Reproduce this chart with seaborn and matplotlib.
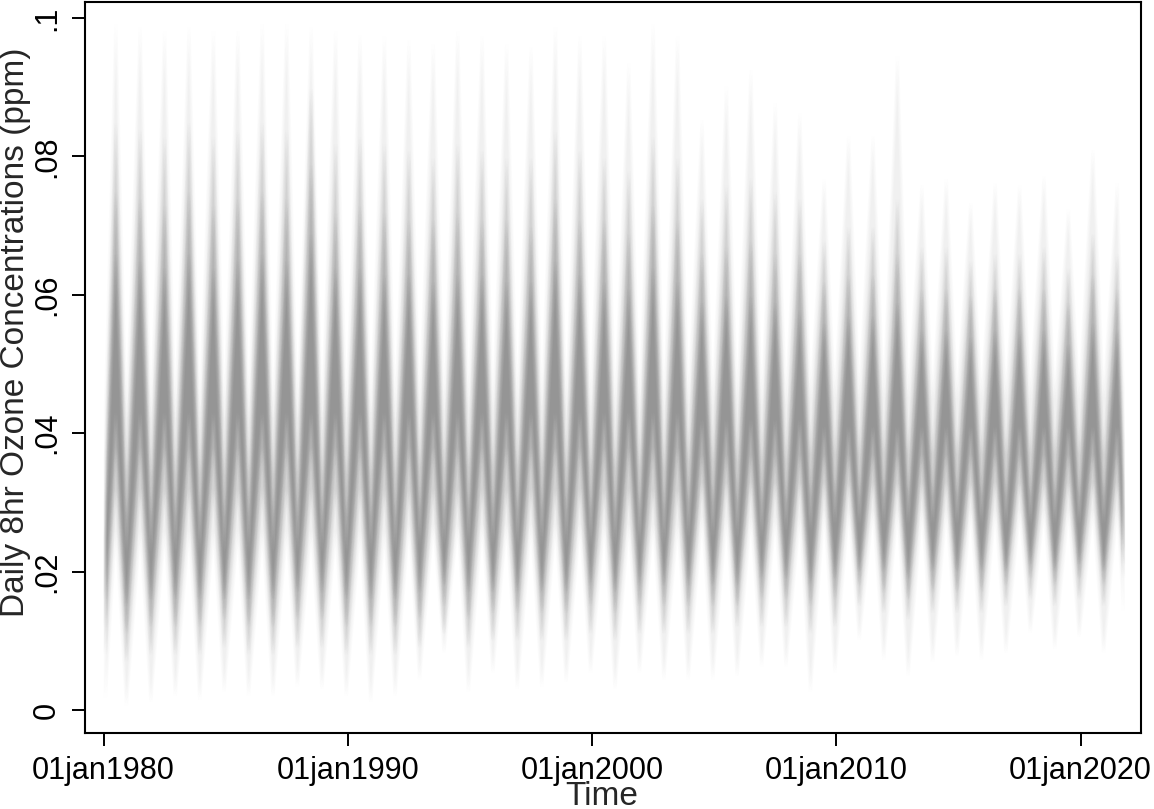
import numpy as np
import pandas as pd
import seaborn as sns
import matplotlib
matplotlib.use('Agg')
import matplotlib.pyplot as plt
import matplotlib.dates as mdates

# seasonal nodes: one summer peak per year, winter lows in between
peak_years = list(range(1980, 2022))
peak_dates = pd.to_datetime(['{}-06-25'.format(y) for y in peak_years])
trough_dates = pd.to_datetime(['1980-01-20'] + ['{}-12-01'.format(y) for y in range(1980, 2021)] + ['2021-09-25'])

# summer peaks, outer (faint) to core (dark) upper edges
peak_l0_top = [.0996, .0992, .0986, .0992, .0986, .0986, .0996, .0996, .0992, .0986, .098, .0978, .0972, .0967,
               .0986, .0978, .0967, .0963, .0992, .0978, .0978, .0939, .0996, .0978, .0856, .0905, .0929, .0881,
               .0866, .077, .0833, .0833, .0949, .0761, .077, .0736, .0765, .0761, .0775, .0726, .0813, .0765]
peak_l1_top = [.085, .084, .083, .085, .083, .084, .085, .084, .090, .082, .083, .082, .081, .080,
               .082, .081, .080, .080, .084, .081, .080, .078, .083, .080, .074, .076, .077, .075,
               .074, .068, .070, .070, .074, .067, .067, .065, .066, .066, .067, .064, .069, .066]
peak_l2_top = [.075, .074, .073, .075, .073, .074, .075, .074, .079, .072, .073, .072, .071, .071,
               .072, .071, .071, .070, .074, .071, .071, .069, .073, .071, .066, .067, .068, .066,
               .066, .062, .063, .063, .066, .061, .061, .060, .061, .061, .061, .059, .063, .061]
peak_l3_top = [.066, .065, .064, .066, .064, .065, .066, .065, .069, .064, .064, .063, .063, .062,
               .063, .063, .062, .062, .065, .063, .062, .061, .064, .062, .059, .060, .060, .059,
               .058, .056, .057, .057, .059, .055, .055, .054, .055, .055, .055, .053, .056, .055]
# summer peaks, lower edges of each band
peak_l0_bot = [.026, .026, .026, .026, .026, .026, .026, .026, .026, .026, .026, .026, .027, .027,
               .027, .027, .027, .027, .027, .027, .027, .027, .027, .027, .028, .028, .028, .028,
               .028, .029, .029, .029, .029, .029, .029, .029, .029, .029, .029, .029, .029, .029]
peak_l1_bot = [.032, .032, .032, .032, .032, .032, .032, .032, .032, .032, .032, .032, .032, .032,
               .032, .032, .032, .032, .032, .032, .032, .032, .032, .032, .033, .033, .033, .033,
               .033, .033, .033, .033, .033, .033, .033, .033, .033, .033, .033, .033, .033, .033]
peak_l2_bot = [.038, .038, .038, .038, .038, .038, .038, .038, .038, .038, .038, .038, .038, .038,
               .038, .038, .038, .038, .038, .038, .038, .038, .038, .038, .037, .037, .037, .037,
               .037, .037, .037, .037, .037, .037, .037, .037, .037, .037, .037, .037, .037, .037]
peak_l3_bot = [.043, .043, .043, .043, .043, .043, .043, .043, .043, .043, .043, .043, .043, .043,
               .043, .043, .043, .043, .043, .043, .043, .043, .043, .043, .042, .042, .042, .042,
               .042, .041, .041, .041, .041, .041, .041, .041, .041, .041, .041, .041, .041, .041]

# winter lows, lower edges (outer to core)
trough_l0_bot = [.0014, .0005, .001, .0019, .0014, .0025, .0019, .0019, .0033, .0029, .0019, .001, .0019, .0043,
                 .0082, .0025, .0053, .0029, .0033, .0039, .0053, .0029, .0053, .0043, .0043, .0043, .0048, .0062,
                 .0062, .0025, .0053, .0101, .0072, .0048, .0068, .0077, .0072, .0082, .0111, .0087, .0105, .0082,
                 .014]
trough_l1_bot = [.008, .007, .008, .008, .008, .009, .008, .008, .009, .009, .008, .008, .008, .009,
                 .011, .009, .010, .010, .010, .010, .011, .010, .011, .011, .011, .011, .012, .012,
                 .012, .011, .012, .015, .014, .013, .014, .014, .014, .015, .016, .015, .016, .015,
                 .019]
trough_l2_bot = [.012, .011, .012, .012, .012, .013, .012, .012, .013, .013, .012, .012, .012, .013,
                 .015, .013, .014, .014, .014, .014, .015, .014, .015, .015, .015, .015, .015, .016,
                 .016, .015, .016, .018, .017, .016, .017, .017, .017, .018, .019, .018, .019, .018,
                 .021]
trough_l3_bot = [.016, .015, .016, .016, .016, .016, .016, .016, .017, .017, .016, .016, .016, .017,
                 .018, .017, .017, .017, .017, .017, .018, .017, .018, .018, .018, .018, .018, .019,
                 .019, .018, .019, .020, .020, .019, .020, .020, .020, .020, .021, .020, .021, .020,
                 .023]
# winter lows, upper edges
trough_l3_top = [.025, .023, .023, .023, .023, .023, .023, .023, .023, .023, .023, .023, .023, .024,
                 .024, .024, .024, .024, .024, .024, .024, .024, .024, .024, .025, .025, .025, .025,
                 .026, .026, .027, .027, .027, .027, .027, .027, .027, .027, .027, .027, .027, .027,
                 .029]
trough_l2_top = [.030, .028, .028, .028, .028, .028, .028, .028, .028, .028, .028, .028, .028, .029,
                 .029, .029, .029, .029, .029, .029, .029, .029, .029, .029, .030, .030, .030, .030,
                 .030, .031, .031, .031, .031, .031, .031, .031, .031, .031, .031, .031, .031, .031,
                 .033]
trough_l1_top = [.036, .034, .034, .034, .034, .034, .034, .034, .034, .034, .034, .034, .034, .035,
                 .035, .035, .035, .035, .035, .035, .035, .035, .035, .035, .036, .036, .036, .036,
                 .036, .037, .037, .037, .037, .037, .037, .037, .037, .037, .037, .037, .037, .037,
                 .039]
trough_l0_top = [.044, .042, .042, .042, .042, .042, .042, .042, .042, .042, .042, .042, .042, .043,
                 .043, .043, .043, .043, .043, .043, .043, .043, .043, .043, .044, .044, .044, .044,
                 .044, .045, .045, .045, .045, .045, .045, .045, .045, .045, .045, .045, .045, .045,
                 .046]

x_ticks = [1980, 1990, 2000, 2010, 2020]
y_ticks = [0, .02, .04, .06, .08, .1]
y_tick_labels = ['0', '.02', '.04', '.06', '.08', '.1']

LAYER_ALPHA = [0.06, 0.14, 0.18, 0.22]
SHIFT_DAYS = [-24, -12, 0, 12, 24]   # spread of the seasonal timing across sites


def zigzag(trough_vals, peak_vals):
    xs, ys = [], []
    for i in range(len(peak_vals)):
        xs += [trough_dates[i], peak_dates[i]]
        ys += [trough_vals[i], peak_vals[i]]
    xs.append(trough_dates[-1])
    ys.append(trough_vals[-1])
    return mdates.date2num(pd.to_datetime(xs)), np.array(ys)


def build_layers():
    edges = [
        (trough_l0_bot, peak_l0_bot, trough_l0_top, peak_l0_top),
        (trough_l1_bot, peak_l1_bot, trough_l1_top, peak_l1_top),
        (trough_l2_bot, peak_l2_bot, trough_l2_top, peak_l2_top),
        (trough_l3_bot, peak_l3_bot, trough_l3_top, peak_l3_top),
    ]
    out = []
    for (t_lo, p_lo, t_hi, p_hi), a in zip(edges, LAYER_ALPHA):
        x, lo = zigzag(t_lo, p_lo)
        _, hi = zigzag(t_hi, p_hi)
        out.append((pd.DataFrame({'date': x, 'lo': lo, 'hi': hi}), a))
    return out


def plot_ozone(layers):
    sns.set_theme(style='ticks')
    plt.rcParams['font.family'] = ['Liberation Sans', 'DejaVu Sans']
    fig = plt.figure(figsize=(11.54, 8.09), dpi=100)
    ax = fig.add_axes([85 / 1154, 1 - 733 / 809, (1141 - 85) / 1154, (733 - 2) / 809])

    n = len(SHIFT_DAYS)
    for df, a in layers:
        a_each = 1 - (1 - a) ** (1.0 / n)
        for d in SHIFT_DAYS:
            ax.fill_between(df['date'] + d, df['lo'], df['hi'], color='#333333',
                            alpha=a_each, linewidth=0)

    xt = mdates.date2num(pd.to_datetime(['{}-01-01'.format(y) for y in x_ticks]))
    ax.set_xticks(xt)
    ax.set_xticklabels(['01jan{}'.format(y) for y in x_ticks], fontsize=22)
    ax.set_yticks(y_ticks)
    ax.set_yticklabels(y_tick_labels, fontsize=22, rotation=90, va='center')
    ax.set_xlim(mdates.date2num(pd.Timestamp('1979-03-30')), mdates.date2num(pd.Timestamp('2022-06-21')))
    ax.set_ylim(-0.00332, 0.10231)

    ax.tick_params(axis='both', length=9.5, width=1.4, color='black', pad=7, labelcolor='black')
    for s in ax.spines.values():
        s.set_linewidth(1.5)
        s.set_color('black')

    ax.set_xlabel('Time', fontsize=24)
    ax.xaxis.set_label_coords(0.4896, -0.0650)
    ax.set_ylabel('Daily 8hr Ozone Concentrations (ppm)', fontsize=24)
    ax.yaxis.set_label_coords(-0.051, 0.5486)

    fig.savefig('out.png', dpi=100, facecolor='white')


def main():
    layers = build_layers()
    plot_ozone(layers)

main()
